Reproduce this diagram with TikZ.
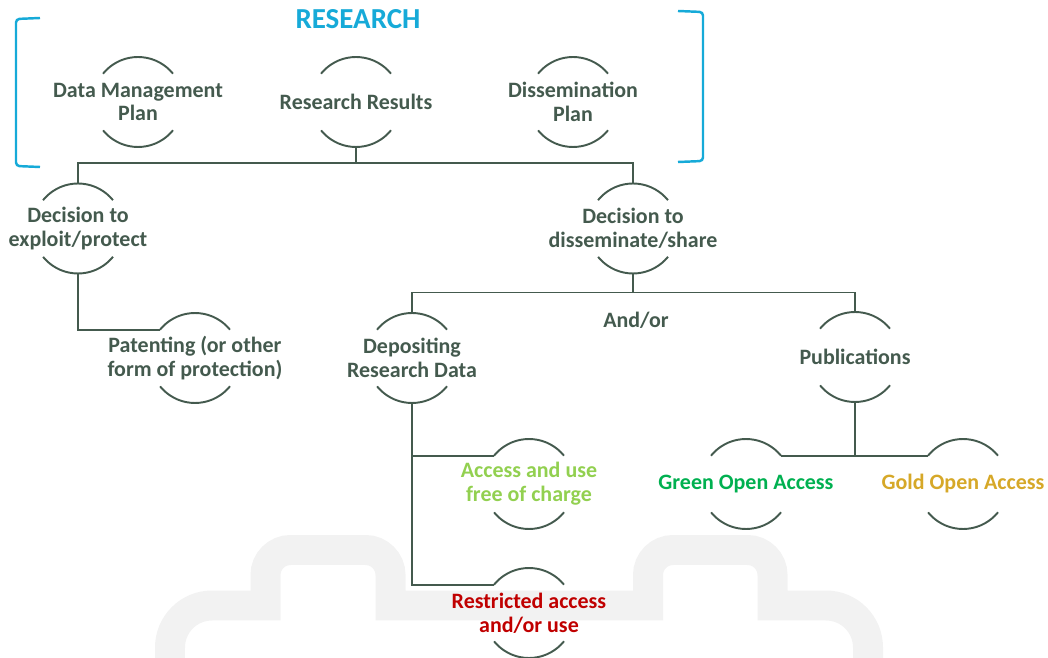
\documentclass[tikz,border=0pt]{standalone}
\usepackage{fontspec}
\setmainfont{Carlito}

\definecolor{vertgris}{RGB}{68,90,78}
\definecolor{bleurech}{RGB}{22,170,216}
\definecolor{vertclair}{RGB}{146,208,80}
\definecolor{vertoa}{RGB}{0,176,80}
\definecolor{orgold}{RGB}{214,168,40}
\definecolor{rougeres}{RGB}{192,0,0}
\definecolor{grisfond}{RGB}{242,242,242}

\begin{document}
\begin{tikzpicture}[x=0.02cm, y=0.02cm]
\tikzset{bulle/.style={circle, minimum size=1.8cm, inner sep=0pt, outer sep=0pt,
    draw=vertgris, line width=1.1pt,
    dash pattern=on 1.6022cm off 1.2252cm, dash phase=2.2148cm}}
\tikzset{texte/.style={text=vertgris, align=center,
    font=\bfseries\fontsize{12.5}{13.6}\selectfont}}
\tikzset{lien/.style={draw=vertgris, line width=1.1pt}}
\clip (0,-658) rectangle (1048,0);
% fond
\draw[grisfond, line width=0.6cm] (170,-700)
  [rounded corners=0.84cm] -- (170,-605.5)
  [sharp corners] -- (265.5,-605.5)
  [rounded corners=0.5cm] -- (265.5,-550) -- (390.5,-550)
  [sharp corners] -- (390.5,-605.5) -- (648,-605.5)
  [rounded corners=0.5cm] -- (648,-550) -- (772.5,-550)
  [sharp corners] -- (772.5,-605.5)
  [rounded corners=0.84cm] -- (868,-605.5) -- (868,-700);
% crochets
\draw[bleurech, line width=1.4pt, rounded corners=2pt] (40,-18) -- (16,-19) -- (16,-166) -- (40,-167);
\draw[bleurech, line width=1.4pt, rounded corners=2pt] (678,-11) -- (703,-12) -- (703,-161) -- (678,-162);
\node[text=bleurech, font=\bfseries\fontsize{16.5}{18}\selectfont] (titre) at (358,-19) {RESEARCH};
% noeuds
\node[bulle, label={[texte]center:Data Management\\Plan}] (dmp) at (138,-102) {};
\node[bulle, label={[texte]center:Research Results}] (rr) at (356,-102) {};
\node[bulle, label={[texte]center:Dissemination\\Plan}] (dp) at (573,-102) {};
\node[bulle, label={[texte]center:Decision to\\exploit/protect}] (dex) at (78,-228.5) {};
\node[bulle, label={[texte]center:Decision to\\disseminate/share}] (dds) at (633,-228.5) {};
\node[bulle, label={[texte]center:Patenting (or other\\form of protection)}] (pat) at (195,-358) {};
\node[bulle, label={[texte]center:Depositing\\Research Data}] (dep) at (412,-358) {};
\node[bulle, label={[texte]center:Publications}] (pub) at (855,-357) {};
\node[bulle, label={[texte, text=vertclair]center:Access and use\\free of charge}] (acc) at (529,-484) {};
\node[bulle, label={[texte, text=rougeres]center:Restricted access\\and/or use}] (res) at (529,-613) {};
\node[bulle, label={[texte, text=vertoa]center:Green Open Access}] (goa) at (746,-484) {};
\node[bulle, label={[texte, text=orgold]center:Gold Open Access}] (gold) at (963,-484) {};
\node[texte] (etou) at (636,-320) {And/or};
% liens
\draw[lien] (rr.south) -- ++(0,-16) coordinate (b1);
\draw[lien] (dex.north) |- (b1) -| (dds.north);
\draw[lien] (dex.south) |- (pat.141);
\draw[lien] (dds.south) -- ++(0,-19) coordinate (b2);
\draw[lien] (dep.north) |- (b2) -| (pub.north);
\draw[lien] (dep.south) |- (acc.141);
\draw[lien] (dep.south) |- (res.141);
\draw[lien] (pub.south) -- (pub.south |- goa.39);
\draw[lien] (goa.39) -- (gold.141);
\end{tikzpicture}
\end{document}
